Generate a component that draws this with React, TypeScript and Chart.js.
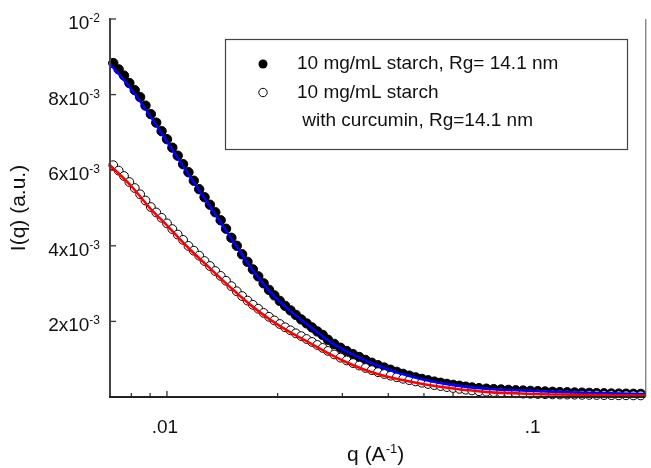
import { useEffect, useRef } from 'react';
import { Chart, registerables } from 'chart.js';

Chart.register(...registerables);

// ---------- DATA ----------
const Q_DATA = [
  0.007145, 0.007389, 0.007642, 0.007903, 0.008173, 0.008453, 0.008742, 0.009041, 0.009350, 0.009670,
  0.010001, 0.010343, 0.010697, 0.011063, 0.011441, 0.011832, 0.012237, 0.012655, 0.013088, 0.013536,
  0.013999, 0.014478, 0.014973, 0.015485, 0.016015, 0.016563, 0.017129, 0.017715, 0.018321, 0.018948,
  0.019596, 0.020266, 0.020959, 0.021676, 0.022417, 0.023184, 0.023977, 0.024797, 0.025645, 0.026522,
  0.027406, 0.028502, 0.029642, 0.030828, 0.032061, 0.033344, 0.034677, 0.036064, 0.037507, 0.039007,
  0.040567, 0.042190, 0.043878, 0.045633, 0.047458, 0.049356, 0.051331, 0.053384, 0.055519, 0.057740,
  0.060050, 0.062452, 0.064950, 0.067548,
  0.07058, 0.07391, 0.07739, 0.08104, 0.08486, 0.08886, 0.09305, 0.09743, 0.10202, 0.10683,
  0.11187, 0.11714, 0.12266, 0.12844, 0.13449, 0.14083, 0.14747, 0.15442, 0.16170, 0.16932,
  0.17730, 0.18566, 0.19441,
];

const STARCH = [
  8.834e-3, 8.668e-3, 8.503e-3, 8.305e-3, 8.119e-3, 7.934e-3, 7.709e-3, 7.483e-3, 7.258e-3, 7.033e-3,
  6.821e-3, 6.596e-3, 6.384e-3, 6.159e-3, 5.947e-3, 5.722e-3, 5.497e-3, 5.285e-3, 5.086e-3, 4.887e-3,
  4.675e-3, 4.450e-3, 4.212e-3, 4.000e-3, 3.775e-3, 3.576e-3, 3.377e-3, 3.192e-3, 3.007e-3, 2.834e-3,
  2.689e-3, 2.543e-3, 2.411e-3, 2.291e-3, 2.172e-3, 2.053e-3, 1.947e-3, 1.841e-3, 1.735e-3, 1.642e-3,
  1.515e-3, 1.404e-3, 1.303e-3, 1.216e-3, 1.134e-3, 1.057e-3, 0.980e-3, 0.906e-3, 0.840e-3, 0.779e-3,
  0.721e-3, 0.665e-3, 0.612e-3, 0.564e-3, 0.519e-3, 0.479e-3, 0.442e-3, 0.408e-3, 0.376e-3, 0.347e-3,
  0.321e-3, 0.297e-3, 0.273e-3, 0.252e-3,
  0.233e-3, 0.220e-3, 0.209e-3, 0.199e-3, 0.188e-3, 0.177e-3, 0.170e-3, 0.162e-3, 0.154e-3, 0.146e-3,
  0.138e-3, 0.130e-3, 0.125e-3, 0.119e-3, 0.114e-3, 0.109e-3, 0.103e-3, 0.098e-3, 0.093e-3, 0.090e-3,
  0.087e-3, 0.085e-3, 0.082e-3,
];

const CURCUMIN = [
  6.132e-3, 5.989e-3, 5.846e-3, 5.687e-3, 5.528e-3, 5.362e-3, 5.197e-3, 5.025e-3, 4.882e-3, 4.739e-3,
  4.593e-3, 4.442e-3, 4.297e-3, 4.156e-3, 3.997e-3, 3.870e-3, 3.738e-3, 3.597e-3, 3.465e-3, 3.332e-3,
  3.203e-3, 3.075e-3, 2.932e-3, 2.797e-3, 2.670e-3, 2.551e-3, 2.440e-3, 2.334e-3, 2.225e-3, 2.122e-3,
  2.026e-3, 1.931e-3, 1.844e-3, 1.764e-3, 1.685e-3, 1.611e-3, 1.534e-3, 1.457e-3, 1.377e-3, 1.298e-3,
  1.219e-3, 1.126e-3, 1.041e-3, 0.967e-3, 0.898e-3, 0.832e-3, 0.768e-3, 0.710e-3, 0.657e-3, 0.609e-3,
  0.564e-3, 0.522e-3, 0.482e-3, 0.445e-3, 0.411e-3, 0.376e-3, 0.344e-3, 0.315e-3, 0.289e-3, 0.262e-3,
  0.238e-3, 0.215e-3, 0.193e-3, 0.175e-3,
  0.154e-3, 0.140e-3, 0.130e-3, 0.119e-3, 0.108e-3, 0.098e-3, 0.090e-3, 0.085e-3, 0.079e-3, 0.074e-3,
  0.069e-3, 0.066e-3, 0.064e-3, 0.061e-3, 0.058e-3, 0.056e-3, 0.053e-3, 0.050e-3, 0.048e-3, 0.045e-3,
  0.045e-3, 0.042e-3, 0.042e-3,
];

const Q_FIT = [
  0.0070, 0.0080, 0.0090, 0.0100, 0.0115, 0.0130, 0.0150, 0.0170, 0.0190, 0.0215, 0.0245,
  0.0280, 0.0320, 0.0370, 0.0430, 0.0500, 0.0600, 0.0750, 0.0950, 0.1250, 0.1600, 0.2000,
];
const STARCH_FIT = [
  8.821e-3, 8.146e-3, 7.444e-3, 6.768e-3, 5.868e-3, 5.099e-3, 4.183e-3, 3.404e-3, 2.808e-3, 2.305e-3, 1.868e-3,
  1.444e-3, 1.126e-3, 0.853e-3, 0.628e-3, 0.458e-3, 0.315e-3, 0.212e-3, 0.167e-3, 0.122e-3, 0.095e-3, 0.079e-3,
];
const CURCUMIN_FIT = [
  6.132e-3, 5.579e-3, 4.993e-3, 4.540e-3, 3.923e-3, 3.436e-3, 2.869e-3, 2.411e-3, 2.061e-3, 1.727e-3, 1.428e-3,
  1.115e-3, 0.848e-3, 0.620e-3, 0.461e-3, 0.339e-3, 0.225e-3, 0.130e-3, 0.087e-3, 0.061e-3, 0.045e-3, 0.040e-3,
];

const Y_TICKS = [0.002, 0.004, 0.006, 0.008, 0.01];
const Y_TICK_BASE = ['2x10', '4x10', '6x10', '8x10', '10'];
const Y_TICK_EXP = ['-3', '-3', '-3', '-3', '-2'];
const X_MAJOR = [0.01, 0.1];
const X_MINOR = [0.008, 0.009, 0.02, 0.03, 0.04, 0.05, 0.06, 0.07, 0.08, 0.09, 0.2];
const X_TICK_LABELS = ['.01', '.1'];

const LEGEND_1 = '10 mg/mL starch, Rg= 14.1 nm';
const LEGEND_2A = '10 mg/mL starch';
const LEGEND_2B = ' with curcumin, Rg=14.1 nm';
const Y_TITLE = 'I(q) (a.u.)';
const X_TITLE_A = 'q (A';
const X_TITLE_EXP = '-1';
const X_TITLE_B = ')';

const FONT = "'Liberation Sans', Arial, sans-serif";

function toXY(xs: number[], ys: number[]) {
  return xs.map((x, i) => ({ x, y: ys[i] }));
}

const decorPlugin = {
  id: 'decor',
  beforeDatasetsDraw(chart: any) {
    const { ctx, chartArea: a, scales } = chart;
    const x = scales.x, y = scales.y;
    ctx.save();
    ctx.strokeStyle = '#333';
    ctx.lineWidth = 1.3;
    Y_TICKS.forEach((v) => {
      const py = y.getPixelForValue(v);
      ctx.beginPath();
      ctx.moveTo(a.left, py);
      ctx.lineTo(a.left + 6, py);
      ctx.stroke();
    });
    X_MINOR.forEach((v) => {
      const px = x.getPixelForValue(v);
      ctx.beginPath();
      ctx.moveTo(px, a.bottom);
      ctx.lineTo(px, a.bottom - 4);
      ctx.stroke();
    });
    X_MAJOR.forEach((v) => {
      const px = x.getPixelForValue(v);
      ctx.beginPath();
      ctx.moveTo(px, a.bottom);
      ctx.lineTo(px, a.bottom - 6);
      ctx.stroke();
    });
    ctx.restore();
  },
  afterDatasetsDraw(chart: any) {
    const { ctx, chartArea: a, scales } = chart;
    const x = scales.x, y = scales.y;
    ctx.save();
    // axis lines
    ctx.strokeStyle = '#444';
    ctx.lineWidth = 2;
    ctx.beginPath();
    ctx.moveTo(a.left, a.top - 1);
    ctx.lineTo(a.left, a.bottom);
    ctx.stroke();
    ctx.strokeStyle = '#222';
    ctx.beginPath();
    ctx.moveTo(a.left - 1, a.bottom);
    ctx.lineTo(a.right, a.bottom);
    ctx.stroke();
    ctx.strokeStyle = '#555';
    ctx.lineWidth = 1;
    ctx.beginPath();
    ctx.moveTo(a.right + 0.5, a.top);
    ctx.lineTo(a.right + 0.5, a.bottom);
    ctx.stroke();

    // y tick labels
    ctx.fillStyle = '#111';
    ctx.textBaseline = 'alphabetic';
    ctx.textAlign = 'left';
    Y_TICKS.forEach((v, i) => {
      const py = y.getPixelForValue(v);
      ctx.font = `12px ${FONT}`;
      const we = ctx.measureText(Y_TICK_EXP[i]).width;
      ctx.font = `19px ${FONT}`;
      const wb = ctx.measureText(Y_TICK_BASE[i]).width;
      const right = a.left - 10;
      ctx.fillText(Y_TICK_BASE[i], right - we - wb, py + 10);
      ctx.font = `12px ${FONT}`;
      ctx.fillText(Y_TICK_EXP[i], right - we, py + 3);
    });

    // x tick labels
    ctx.font = `19px ${FONT}`;
    ctx.textAlign = 'center';
    X_MAJOR.forEach((v, i) => {
      const px = x.getPixelForValue(v);
      ctx.fillText(X_TICK_LABELS[i], px - 2, a.bottom + 36);
    });

    // x title
    ctx.textAlign = 'left';
    ctx.font = `21px ${FONT}`;
    const wa = ctx.measureText(X_TITLE_A).width;
    const wc = ctx.measureText(X_TITLE_B).width;
    ctx.font = `13px ${FONT}`;
    const wx = ctx.measureText(X_TITLE_EXP).width;
    const total = wa + wx + wc;
    const cx = (a.left + a.right) / 2 - 2;
    const sx = cx - total / 2;
    const by = a.bottom + 64;
    ctx.font = `21px ${FONT}`;
    ctx.fillText(X_TITLE_A, sx, by);
    ctx.font = `13px ${FONT}`;
    ctx.fillText(X_TITLE_EXP, sx + wa, by - 8);
    ctx.font = `21px ${FONT}`;
    ctx.fillText(X_TITLE_B, sx + wa + wx, by);

    // y title
    ctx.save();
    ctx.translate(19, (a.top + a.bottom) / 2);
    ctx.rotate(-Math.PI / 2);
    ctx.textAlign = 'center';
    ctx.textBaseline = 'middle';
    ctx.font = `21px ${FONT}`;
    ctx.fillText(Y_TITLE, 0, 0);
    ctx.restore();

    // legend box
    ctx.fillStyle = '#fff';
    ctx.fillRect(225, 39, 403, 110);
    ctx.strokeStyle = '#444';
    ctx.lineWidth = 1.2;
    ctx.strokeRect(225.5, 39.5, 402, 110);
    // markers
    ctx.beginPath();
    ctx.arc(263, 64, 4.5, 0, Math.PI * 2);
    ctx.fillStyle = '#000';
    ctx.fill();
    ctx.beginPath();
    ctx.arc(263, 92.5, 4.2, 0, Math.PI * 2);
    ctx.fillStyle = '#fff';
    ctx.fill();
    ctx.strokeStyle = '#000';
    ctx.lineWidth = 1;
    ctx.stroke();
    // texts
    ctx.fillStyle = '#111';
    ctx.font = `19px ${FONT}`;
    ctx.textAlign = 'left';
    ctx.textBaseline = 'alphabetic';
    ctx.fillText(LEGEND_1, 297, 69);
    ctx.fillText(LEGEND_2A, 297, 98);
    ctx.fillText(LEGEND_2B, 297, 126);
    ctx.restore();
  },
};

export default function App() {
  const ref = useRef<HTMLCanvasElement>(null);
  useEffect(() => {
    document.body.style.margin = '0';
    const canvas = ref.current!;
    const chart = new Chart(canvas, {
      type: 'scatter',
      data: {
        datasets: [
          {
            label: 'starch fit',
            data: toXY(Q_FIT, STARCH_FIT),
            showLine: true,
            borderColor: '#0000ff',
            borderWidth: 2.6,
            pointRadius: 0,
            cubicInterpolationMode: 'monotone',
            order: 1,
            clip: false,
          } as any,
          {
            label: 'curcumin fit',
            data: toXY(Q_FIT, CURCUMIN_FIT),
            showLine: true,
            borderColor: '#ff0000',
            borderWidth: 2.6,
            pointRadius: 0,
            cubicInterpolationMode: 'monotone',
            order: 0,
            clip: false,
          } as any,
          {
            label: LEGEND_1,
            data: toXY(Q_DATA, STARCH),
            showLine: false,
            pointRadius: 4.7,
            pointBackgroundColor: '#000',
            pointBorderColor: '#000',
            pointBorderWidth: 1,
            order: 3,
            clip: false,
          } as any,
          {
            label: LEGEND_2A + LEGEND_2B,
            data: toXY(Q_DATA, CURCUMIN),
            showLine: false,
            pointRadius: 4.4,
            pointBackgroundColor: '#fff',
            pointBorderColor: '#000',
            pointBorderWidth: 1,
            order: 2,
            clip: false,
          } as any,
        ],
      },
      options: {
        animation: false,
        responsive: false,
        devicePixelRatio: 1,
        layout: { padding: { left: 110, right: 1, top: 19, bottom: 71 } },
        scales: {
          x: { type: 'logarithmic', min: 0.007, max: 0.2, display: false },
          y: { type: 'linear', min: 0, max: 0.01, display: false },
        },
        plugins: { legend: { display: false }, tooltip: { enabled: false } },
        events: [],
      },
      plugins: [decorPlugin],
    });
    return () => chart.destroy();
  }, []);
  return (
    <div style={{ width: 651, height: 468 }}>
      <canvas ref={ref} width={651} height={468} style={{ display: 'block', width: 651, height: 468 }} />
    </div>
  );
}
